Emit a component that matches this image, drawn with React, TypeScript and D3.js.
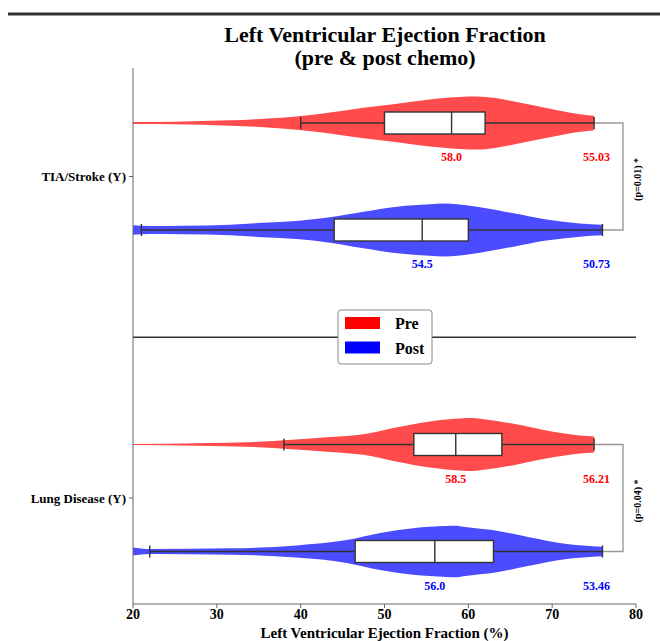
import React from "react";
import * as d3 from "d3";

// ---- data ----
const categories = ["TIA/Stroke (Y)", "Lung Disease (Y)"];
const groups = ["Pre", "Post"];
const xTicks = [20, 30, 40, 50, 60, 70, 80];

const preLow = [40, 38];
const preQ1 = [50, 53.5];
const preMedian = [58, 58.5];
const preQ3 = [62, 64];
const preHigh = [75, 75];

const postLow = [21, 22];
const postQ1 = [44, 46.5];
const postMedian = [54.5, 56];
const postQ3 = [60, 63];
const postHigh = [76, 76];

const preMedianLabels = ["58.0", "58.5"];
const postMedianLabels = ["54.5", "56.0"];
const preMeanLabels = ["55.03", "56.21"];
const postMeanLabels = ["50.73", "53.46"];
const pLabels = ["(p=0.01) *", "(p=0.04) *"];

// density profiles: [value, relative half-width]
const preTIADensity: [number, number][] = [
  [20, 0.04], [25, 0.05], [31.6, 0.1], [36, 0.17], [39.5, 0.25], [43.5, 0.4],
  [47.5, 0.58], [51.5, 0.73], [55.4, 0.89], [59.4, 0.99], [61, 1.0], [63, 0.95],
  [65.3, 0.82], [69.3, 0.57], [72.9, 0.35], [75, 0.27],
];
const postTIADensity: [number, number][] = [
  [20, 0.18], [22, 0.15], [26, 0.16], [31.6, 0.2], [35.5, 0.27], [39.5, 0.34],
  [43.5, 0.48], [47.5, 0.69], [51.5, 0.88], [55.4, 0.97], [57, 1.0], [59, 0.96],
  [61.4, 0.86], [65.4, 0.63], [69.3, 0.4], [73.3, 0.25], [76, 0.2],
];
const preLungDensity: [number, number][] = [
  [20, 0.02], [27.6, 0.05], [35.5, 0.11], [38, 0.16], [43.5, 0.28], [47.5, 0.39],
  [51.5, 0.65], [55.4, 0.87], [59.4, 0.99], [60.5, 1.0], [61.4, 0.97], [65.4, 0.78],
  [69.3, 0.53], [73.3, 0.34], [75, 0.3],
];
const postLungDensity: [number, number][] = [
  [20, 0.15], [22, 0.09], [31.6, 0.12], [39.5, 0.23], [45.5, 0.43], [49.5, 0.7],
  [53.4, 0.88], [57.4, 0.96], [58.5, 0.97], [59.4, 0.93], [63.4, 0.78], [67.4, 0.53],
  [71.3, 0.3], [76, 0.18],
];
const preDensities = [preTIADensity, preLungDensity];
const postDensities = [postTIADensity, postLungDensity];

const colors: Record<string, string> = { Pre: "#ff0000", Post: "#0000ff" };
const fills: Record<string, string> = { Pre: "#ff4b4b", Post: "#4b4bff" };

const FONT = "'Liberation Serif', 'Times New Roman', Times, serif";

export default function App() {
  const W = 660, H = 641;
  const x = d3.scaleLinear().domain([20, 80]).range([133, 636]);
  const yCat = d3.scalePoint<string>().domain(categories).range([176.5, 498]);
  const yGroup = d3.scalePoint<string>().domain(groups).range([-53.5, 53.5]);
  const wScale = d3.scaleLinear().domain([0, 1]).range([0, 26.5]);
  const boxHalf = 11;
  const capHalf = 6;
  const axisTop = 68, axisBottom = 604;
  const bracketX = x(78.45);
  const pX = x(80.2);
  const meanLabelX = x(75.3);

  const series = (g: string) =>
    g === "Pre"
      ? { lo: preLow, q1: preQ1, med: preMedian, q3: preQ3, hi: preHigh, dens: preDensities, medL: preMedianLabels, meanL: preMeanLabels }
      : { lo: postLow, q1: postQ1, med: postMedian, q3: postQ3, hi: postHigh, dens: postDensities, medL: postMedianLabels, meanL: postMeanLabels };

  const marks: React.ReactNode[] = [];
  categories.forEach((cat, i) => {
    const cyPre = yCat(cat)! + yGroup("Pre")!;
    const cyPost = yCat(cat)! + yGroup("Post")!;
    marks.push(
      <path key={`br${i}`} d={`M${x(preHigh[i])},${cyPre}H${bracketX}V${cyPost}H${x(postHigh[i])}`}
        fill="none" stroke="#999" strokeWidth={1.4} />
    );
    marks.push(
      <text key={`p${i}`} transform={`translate(${pX},${(cyPre + cyPost) / 2 + 3}) rotate(-90)`}
        textAnchor="middle" dominantBaseline="central" fontFamily={FONT} fontWeight="bold" fontSize={10} fill="#000">
        {pLabels[i]}
      </text>
    );
    groups.forEach((g) => {
      const s = series(g);
      const cy = yCat(cat)! + yGroup(g)!;
      const area = d3.area<[number, number]>()
        .x((d) => x(d[0]))
        .y0((d) => cy - wScale(d[1]))
        .y1((d) => cy + wScale(d[1]))
        .curve(d3.curveMonotoneX);
      marks.push(<path key={`v${i}${g}`} d={area(s.dens[i]) || ""} fill={fills[g]} stroke="none" />);
      marks.push(
        <g key={`b${i}${g}`} stroke="#333" strokeWidth={1.4}>
          <line x1={x(s.lo[i])} x2={x(s.hi[i])} y1={cy} y2={cy} />
          <line x1={x(s.lo[i])} x2={x(s.lo[i])} y1={cy - capHalf} y2={cy + capHalf} />
          <line x1={x(s.hi[i])} x2={x(s.hi[i])} y1={cy - capHalf} y2={cy + capHalf} />
          <rect x={x(s.q1[i])} y={cy - boxHalf} width={x(s.q3[i]) - x(s.q1[i])} height={boxHalf * 2} fill="#fff" />
          <line x1={x(s.med[i])} x2={x(s.med[i])} y1={cy - boxHalf} y2={cy + boxHalf} />
        </g>
      );
      marks.push(
        <text key={`ml${i}${g}`} x={x(s.med[i])} y={cy + 38} textAnchor="middle" fontFamily={FONT}
          fontWeight="bold" fontSize={12} fill={colors[g]}>{s.medL[i]}</text>
      );
      marks.push(
        <text key={`mn${i}${g}`} x={meanLabelX} y={cy + 38} textAnchor="middle" fontFamily={FONT}
          fontWeight="bold" fontSize={12} fill={colors[g]}>{s.meanL[i]}</text>
      );
    });
  });

  const sepY = (yCat(categories[0])! + yCat(categories[1])!) / 2;

  return (
    <svg width={W} height={H} style={{ position: "absolute", left: 0, top: 0, background: "#fff" }}
      fontFamily={FONT}>
      <rect x={0} y={0} width={W} height={H} fill="#fff" />
      <line x1={8} x2={660} y1={14} y2={14} stroke="#333" strokeWidth={3} />
      <text x={385} y={42} textAnchor="middle" fontWeight="bold" fontSize={22}>Left Ventricular Ejection Fraction</text>
      <text x={385} y={65} textAnchor="middle" fontWeight="bold" fontSize={22}>(pre &amp; post chemo)</text>

      <line x1={x(20)} x2={x(80)} y1={sepY} y2={sepY} stroke="#333" strokeWidth={1.5} />

      {marks}

      <line x1={x(20)} x2={x(20)} y1={axisTop} y2={axisBottom} stroke="#666" strokeWidth={1} />
      <line x1={x(20)} x2={x(80)} y1={axisBottom} y2={axisBottom} stroke="#666" strokeWidth={1} />
      {xTicks.map((t) => (
        <g key={t}>
          <line x1={x(t)} x2={x(t)} y1={axisBottom} y2={axisBottom + 4} stroke="#666" />
          <text x={x(t)} y={axisBottom + 15} textAnchor="middle" fontWeight="bold" fontSize={14}>{t}</text>
        </g>
      ))}
      {categories.map((c) => (
        <g key={c}>
          <line x1={x(20) - 4} x2={x(20)} y1={yCat(c)!} y2={yCat(c)!} stroke="#666" />
          <text x={x(20) - 7} y={yCat(c)!} textAnchor="end" dominantBaseline="central" fontWeight="bold" fontSize={13}>{c}</text>
        </g>
      ))}
      <text x={(x(20) + x(80)) / 2} y={638} textAnchor="middle" fontWeight="bold" fontSize={15}>
        Left Ventricular Ejection Fraction (%)
      </text>

      <g>
        <rect x={338} y={310} width={94} height={54} rx={3} fill="#fff" stroke="#888" strokeWidth={1} />
        {groups.map((g, i) => (
          <g key={g}>
            <rect x={345} y={317 + i * 24.5} width={35} height={12} fill={colors[g]} />
            <text x={395} y={329 + i * 24.5} fontWeight="bold" fontSize={16}>{g}</text>
          </g>
        ))}
      </g>
    </svg>
  );
}
